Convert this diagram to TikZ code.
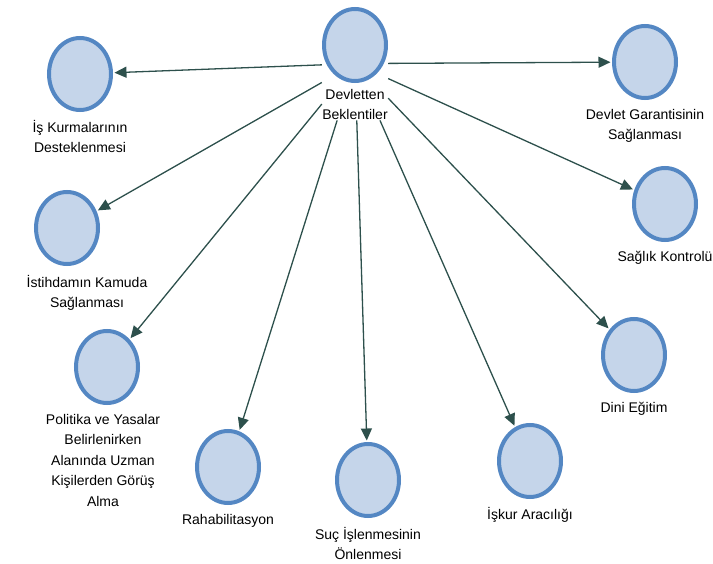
\documentclass[tikz,border=0pt]{standalone}
\usepackage{fontspec}
\setmainfont{Liberation Sans}
\usetikzlibrary{arrows.meta,positioning,fit,shapes.geometric}

\definecolor{ringblue}{RGB}{84,135,195}
\definecolor{ballfill}{RGB}{197,213,234}
\definecolor{linkgreen}{RGB}{45,80,76}

\tikzset{
  ball/.style={ellipse,draw=ringblue,fill=ballfill,line width=4pt,
    minimum width=62pt,minimum height=72pt,inner sep=0pt},
  lbl/.style={align=center,inner sep=0pt,font=\fontsize{14}{20.5}\selectfont},
  link/.style={draw=linkgreen,line width=1.3pt,
    -{Triangle[length=12pt,width=11pt]},shorten >=1.5pt}
}

\begin{document}
\begin{tikzpicture}[x=1pt,y=-1pt]
\useasboundingbox (0,0) rectangle (713,564);

\node[ball] (c0) at (355,45)  {};
\node[ball] (c1) at (80,74)   {};
\node[ball] (c2) at (67,228)  {};
\node[ball] (c3) at (107,367) {};
\node[ball] (c4) at (228,467) {};
\node[ball] (c5) at (368,480) {};
\node[ball] (c6) at (530,461) {};
\node[ball] (c7) at (634,355) {};
\node[ball] (c8) at (665,204) {};
\node[ball] (c9) at (645,62)  {};

\node[lbl,below=6pt of c0] (l0) {Devletten\\Beklentiler};
\node[lbl,below=8pt of c1] (l1) {İş Kurmalarının\\Desteklenmesi};
\node[lbl,below=9pt of c2,xshift=20pt] (l2) {İstihdamın Kamuda\\Sağlanması};
\node[lbl,below=9pt of c3,xshift=-4pt] (l3) {Politika ve Yasalar\\Belirlenirken\\Alanında Uzman\\Kişilerden Görüş\\Alma};
\node[lbl,below=9pt of c4] (l4) {Rahabilitasyon};
\node[lbl,below=9pt of c5] (l5) {Suç İşlenmesinin\\Önlenmesi};
\node[lbl,below=8pt of c6] (l6) {İşkur Aracılığı};
\node[lbl,below=9pt of c7] (l7) {Dini Eğitim};
\node[lbl,below=9pt of c8] (l8) {Sağlık Kontrolü};
\node[lbl,below=9pt of c9] (l9) {Devlet Garantisinin\\Sağlanması};

% arrows leave the block of the top circle and its text
\node[fit=(c0)(l0),inner sep=0pt] (hub) {};

\draw[link] (hub) -- (c1);
\draw[link] (hub) -- (c2);
\draw[link] (hub) -- (c3);
\draw[link] (hub) -- (c4);
\draw[link] (hub) -- (c5);
\draw[link] (hub) -- (c6);
\draw[link] (hub) -- (c7);
\draw[link] (hub) -- (c8);
\draw[link] (hub) -- (c9);
\end{tikzpicture}
\end{document}
